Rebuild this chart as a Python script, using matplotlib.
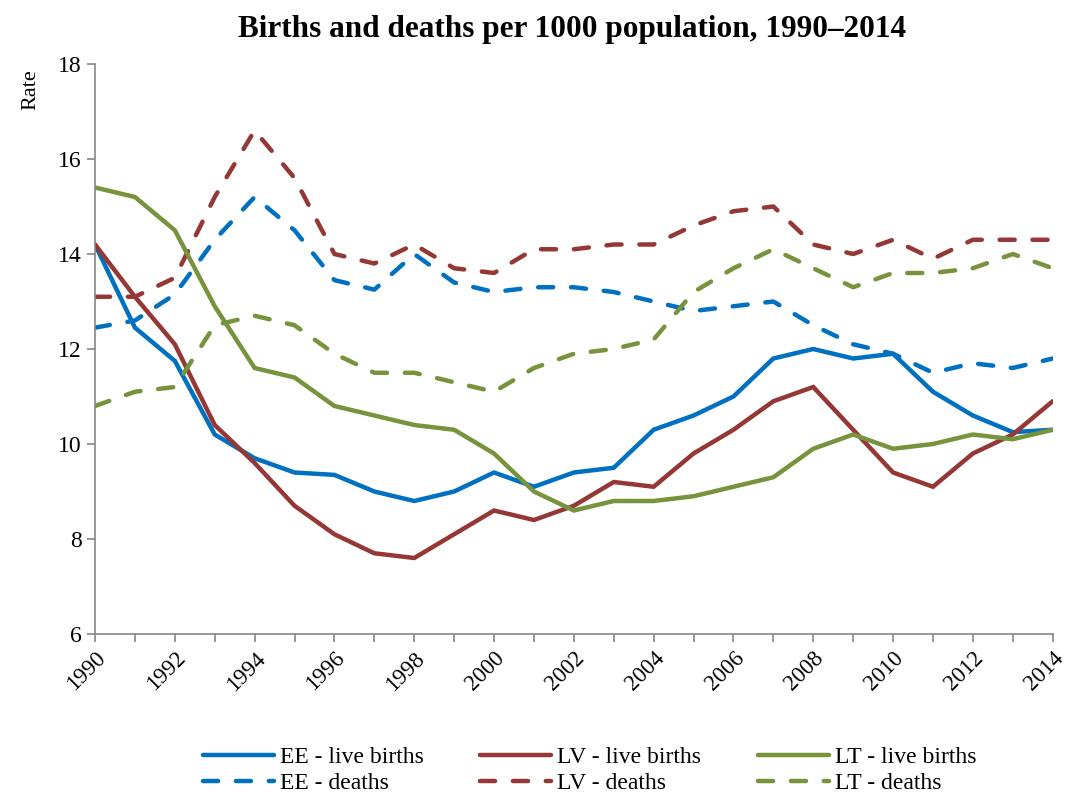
import numpy as np
import matplotlib
matplotlib.use("Agg")
import matplotlib.pyplot as plt

plt.rcParams["font.family"] = ["Liberation Serif", "DejaVu Serif"]

YEARS = list(range(1990, 2015))

EE_BIRTHS = [14.2, 12.45, 11.75, 10.2, 9.7, 9.4, 9.35, 9.0, 8.8, 9.0, 9.4, 9.1, 9.4,
             9.5, 10.3, 10.6, 11.0, 11.8, 12.0, 11.8, 11.9, 11.1, 10.6, 10.25, 10.3]
LV_BIRTHS = [14.2, 13.1, 12.1, 10.4, 9.6, 8.7, 8.1, 7.7, 7.6, 8.1, 8.6, 8.4, 8.7,
             9.2, 9.1, 9.8, 10.3, 10.9, 11.2, 10.3, 9.4, 9.1, 9.8, 10.2, 10.9]
LT_BIRTHS = [15.4, 15.2, 14.5, 12.9, 11.6, 11.4, 10.8, 10.6, 10.4, 10.3, 9.8, 9.0, 8.6,
             8.8, 8.8, 8.9, 9.1, 9.3, 9.9, 10.2, 9.9, 10.0, 10.2, 10.1, 10.3]
EE_DEATHS = [12.45, 12.6, 13.15, 14.3, 15.2, 14.5, 13.45, 13.25, 14.0, 13.4, 13.2, 13.3, 13.3,
             13.2, 13.0, 12.8, 12.9, 13.0, 12.5, 12.1, 11.9, 11.5, 11.7, 11.6, 11.8]
LV_DEATHS = [13.1, 13.1, 13.5, 15.2, 16.6, 15.6, 14.0, 13.8, 14.2, 13.7, 13.6, 14.1, 14.1,
             14.2, 14.2, 14.6, 14.9, 15.0, 14.2, 14.0, 14.3, 13.9, 14.3, 14.3, 14.3]
LT_DEATHS = [10.8, 11.1, 11.2, 12.5, 12.7, 12.5, 11.9, 11.5, 11.5, 11.3, 11.1, 11.6, 11.9,
             12.0, 12.2, 13.2, 13.7, 14.1, 13.7, 13.3, 13.6, 13.6, 13.7, 14.0, 13.7]

BLUE = "#0070C0"
RED = "#953735"
GREEN = "#77933C"
AXIS_GREY = "#868686"


def plot():
    fig = plt.figure(figsize=(10.7, 7.95), dpi=100)
    ax = fig.add_axes([0.0888, 0.2025, 0.895, 0.717])

    lw = 3.2
    dash = (3.4, 4.0)
    series = [
        (EE_BIRTHS, BLUE, "-", "EE - live births"),
        (EE_DEATHS, BLUE, "--", "EE - deaths"),
        (LV_BIRTHS, RED, "-", "LV - live births"),
        (LV_DEATHS, RED, "--", "LV - deaths"),
        (LT_BIRTHS, GREEN, "-", "LT - live births"),
        (LT_DEATHS, GREEN, "--", "LT - deaths"),
    ]
    for values, color, style, label in series:
        line, = ax.plot(YEARS, values, color=color, lw=lw, label=label,
                        solid_joinstyle="miter", solid_capstyle="round")
        if style == "--":
            line.set_dashes(dash)
            line.set_dash_capstyle("round")

    ax.set_xlim(1990, 2014)
    ax.set_ylim(6, 18)
    ax.set_yticks(range(6, 19, 2))
    ax.set_xticks(YEARS)
    ax.set_xticklabels([str(y) if y % 2 == 0 else "" for y in YEARS],
                       rotation=45, ha="right", rotation_mode="anchor", fontsize=16.5)
    ax.tick_params(axis="y", labelsize=17, direction="out", length=6,
                   color=AXIS_GREY, width=1.2)
    ax.tick_params(axis="x", direction="out", length=6, color=AXIS_GREY,
                   width=1.2, pad=4)

    for side in ["top", "right"]:
        ax.spines[side].set_visible(False)
    for side in ["left", "bottom"]:
        ax.spines[side].set_color(AXIS_GREY)
        ax.spines[side].set_linewidth(1.2)

    fig.text(0.029, 0.887, "Rate", rotation=90, fontsize=16, ha="center", va="center")
    fig.text(0.535, 0.963, "Births and deaths per 1000 population, 1990\u20132014",
             fontsize=22.5, fontweight="bold", ha="center", va="center")

    fig.legend(loc="lower center", bbox_to_anchor=(0.551, -0.026), ncol=3,
               frameon=False, fontsize=17, handlelength=3.0, columnspacing=2.4,
               labelspacing=0.2, handletextpad=0.25)

    fig.savefig("out.png", dpi=100)


def main():
    plot()


if __name__ == "__main__":
    main()
